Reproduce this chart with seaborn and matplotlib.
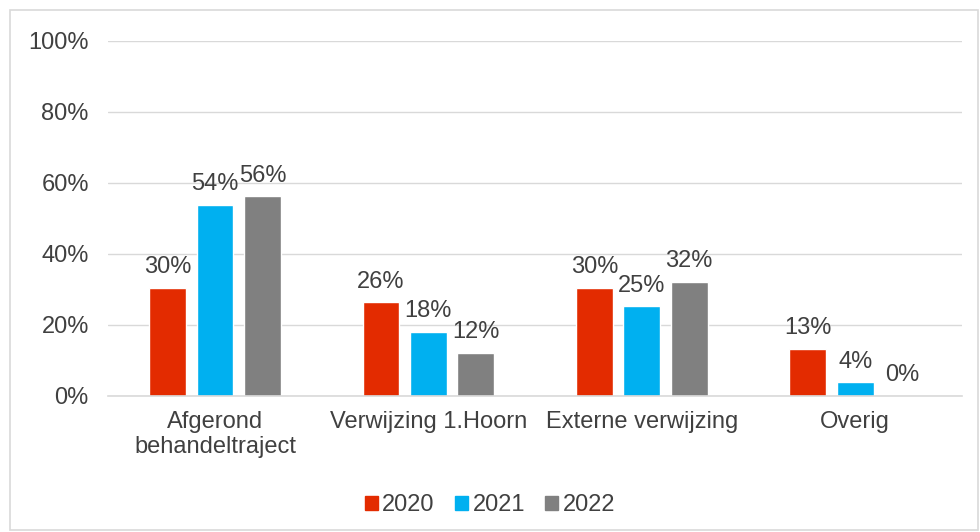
import matplotlib
matplotlib.use("Agg")
import matplotlib.pyplot as plt
import seaborn as sns
import pandas as pd
from matplotlib.patches import Rectangle

# Data
categories = ["Afgerond\nbehandeltraject", "Verwijzing 1.Hoorn", "Externe verwijzing", "Overig"]
years = ["2020", "2021", "2022"]
v2020 = [30.5, 26.3, 30.5, 13.2]
v2021 = [53.8, 18.1, 25.2, 3.8]
v2022 = [56.2, 12.2, 32.2, 0.0]
colors = ["#E32B00", "#00B0F0", "#808080"]

rows = []
for yr, vals in zip(years, [v2020, v2021, v2022]):
    for cat, v in zip(categories, vals):
        rows.append({"cat": cat, "year": yr, "value": v})
df = pd.DataFrame(rows)

sns.set_style("white")
plt.rcParams['font.family'] = ['Liberation Sans', 'DejaVu Sans']
txt = "#404040"
fs = 17

fig = plt.figure(figsize=(9.8, 5.32), dpi=100)
ax = fig.add_axes([0.1105, 0.256, 0.871, 0.667])

sns.barplot(data=df, x="cat", y="value", hue="year", order=categories,
            hue_order=years, palette=colors, width=0.666, gap=0.22,
            saturation=1, ax=ax, legend=True)

# Value labels
for cont in ax.containers:
    labels = [f"{round(b.get_height())}%" for b in cont]
    ax.bar_label(cont, labels=labels, padding=7, fontsize=fs, color=txt)

ax.set_ylim(0, 100)
ax.set_yticks(range(0, 101, 20))
ax.set_yticklabels([f"{t}%" for t in range(0, 101, 20)])
ax.set_xlim(-0.5, 3.5)
ax.set_xlabel("")
ax.set_ylabel("")
ax.grid(axis="y", color="#D9D9D9", linewidth=1)
ax.set_axisbelow(True)
for s in ["top", "right", "left"]:
    ax.spines[s].set_visible(False)
ax.spines["bottom"].set_color("#D9D9D9")
ax.spines["bottom"].set_linewidth(1.2)
ax.tick_params(axis="y", length=0, pad=14, labelsize=fs, labelcolor=txt)
ax.tick_params(axis="x", length=0, pad=11, labelsize=fs, labelcolor=txt)

ax.get_legend().remove()
handles = [Rectangle((0, 0), 1, 1, color=c) for c in colors]
fig.legend(handles, years, loc="center", bbox_to_anchor=(0.5, 0.05), ncol=3,
           frameon=False, fontsize=fs, handlelength=0.55, handleheight=0.55,
           handletextpad=0.2, columnspacing=0.85, labelcolor=txt)

# Outer chart border
fig.patches.append(Rectangle((10 / 980, 2 / 532), 968 / 980, 520 / 532,
                             transform=fig.transFigure, fill=False,
                             edgecolor="#D9D9D9", linewidth=1.2))

fig.savefig("out.png", dpi=100)
